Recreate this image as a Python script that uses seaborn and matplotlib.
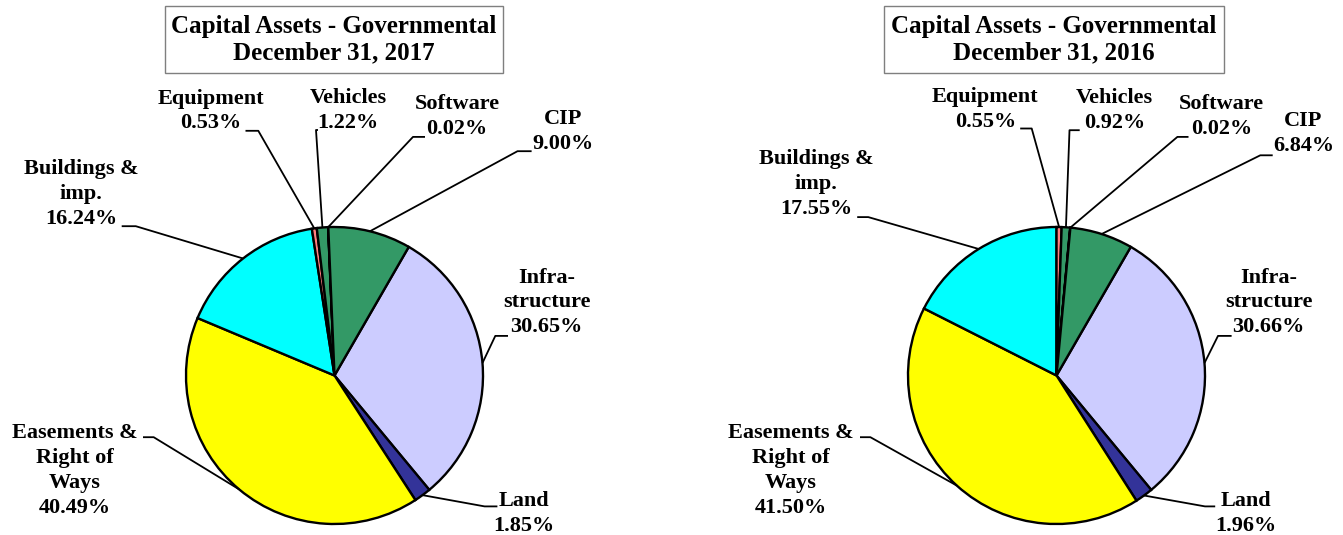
import numpy as np
import matplotlib
matplotlib.use("Agg")
import matplotlib.pyplot as plt
import seaborn as sns
from matplotlib.patches import Rectangle

## data (clockwise from the first slice)
categories = ["Infra-\nstructure", "Land", "Easements &\nRight of\nWays",
              "Buildings &\nimp.", "Equipment", "Vehicles", "Software", "CIP"]
pct_2017 = [30.65, 1.85, 40.49, 16.24, 0.53, 1.22, 0.02, 9.00]
pct_2016 = [30.66, 1.96, 41.50, 17.55, 0.55, 0.92, 0.02, 6.84]
years = ["December 31, 2017", "December 31, 2016"]
title_main = "Capital Assets - Governmental"

colors = ["#CCCCFF", "#333399", "#FFFF00", "#00FFFF",
          "#FF8080", "#339966", "#993366", "#339966"]

## layout, in pixels from the top-left corner
W, H = 1343, 535
pie_centers = [(334.5, 375.5), (1056.5, 375.5)]
radius = 148.5
title_boxes = [(165, 6, 338, 67), (884, 6, 340, 67)]

# text centre, then the two points of the short horizontal leader segment
layout_2017 = [
    ((546.5, 302.4), (508, 335.9), (495.3, 335.9)),
    ((524.3, 513.6), (497.4, 506.4), (484.6, 506.4)),
    ((74.7, 470.4), (143, 437.2), (153.7, 437.2)),
    ((81.1, 194.2), (121.7, 226.2), (135.8, 226.2)),
    ((210.5, 111.0), (245.5, 130.8), (258.3, 130.8)),
    ((348.0, 110.5), (318, 130.0), (316, 130.0)),
    ((456.9, 116.5), (425, 136.9), (413, 136.9)),
    ((563.0, 131.9), (531.6, 151.2), (517.5, 151.2)),
]
layout_2016 = [
    ((1268.6, 302.4), (1231.6, 335.9), (1218, 335.9)),
    ((1246.0, 513.6), (1215.2, 506.4), (1205, 506.4)),
    ((791.0, 470.4), (860, 437.2), (870.4, 437.2)),
    ((816.2, 184.0), (857.2, 217.1), (868.3, 217.1)),
    ((985.3, 109.5), (1020.2, 128.5), (1031.7, 128.5)),
    ((1114.6, 110.5), (1079.7, 130.2), (1069.5, 130.2)),
    ((1221.3, 116.8), (1188.5, 136.9), (1177.4, 136.9)),
    ((1303.4, 133.5), (1272.7, 155.3), (1260.3, 155.3)),
]

sns.set_theme(style="white")
plt.rcParams['font.family'] = ['Liberation Serif', 'DejaVu Serif']


def fy(y):
    return H - y


fig = plt.figure(figsize=(W / 100, H / 100), dpi=100)
ax = fig.add_axes([0, 0, 1, 1])

for k, (values, layout) in enumerate([(pct_2017, layout_2017),
                                      (pct_2016, layout_2016)]):
    cx, cy = pie_centers[k]
    wedges, _ = ax.pie(values,
                       colors=colors,
                       startangle=60,
                       counterclock=False,
                       center=(cx, fy(cy)),
                       radius=radius,
                       wedgeprops=dict(edgecolor='black', linewidth=1.7))

    ## labels with leader lines
    for wedge, name, val, (txt, p1, p2) in zip(wedges, categories,
                                               values, layout):
        mid = np.deg2rad((wedge.theta1 + wedge.theta2) / 2)
        ex = cx + radius * np.cos(mid)
        ey = fy(cy) + radius * np.sin(mid)
        ax.plot([p1[0], p2[0], ex], [fy(p1[1]), fy(p2[1]), ey],
                color='black', lw=1.3, solid_capstyle='butt')
        ax.text(txt[0], fy(txt[1]), f"{name}\n{val:.2f}%",
                ha='center', va='center', multialignment='center',
                fontsize=16, fontweight='bold', linespacing=1.32,
                color='black')

    ## title box
    bx, by, bw, bh = title_boxes[k]
    ax.add_patch(Rectangle((bx, fy(by + bh)), bw, bh, fill=False,
                           edgecolor='#7f7f7f', lw=1.0))
    ax.text(bx + bw / 2, fy(by + bh / 2), f"{title_main}\n{years[k]}",
            ha='center', va='center', multialignment='center',
            fontsize=18, fontweight='bold', linespacing=1.22,
            color='black')

ax.set_aspect('auto')
ax.set_xlim(0, W)
ax.set_ylim(0, H)
ax.axis('off')

plt.savefig("out.png", dpi=100)
